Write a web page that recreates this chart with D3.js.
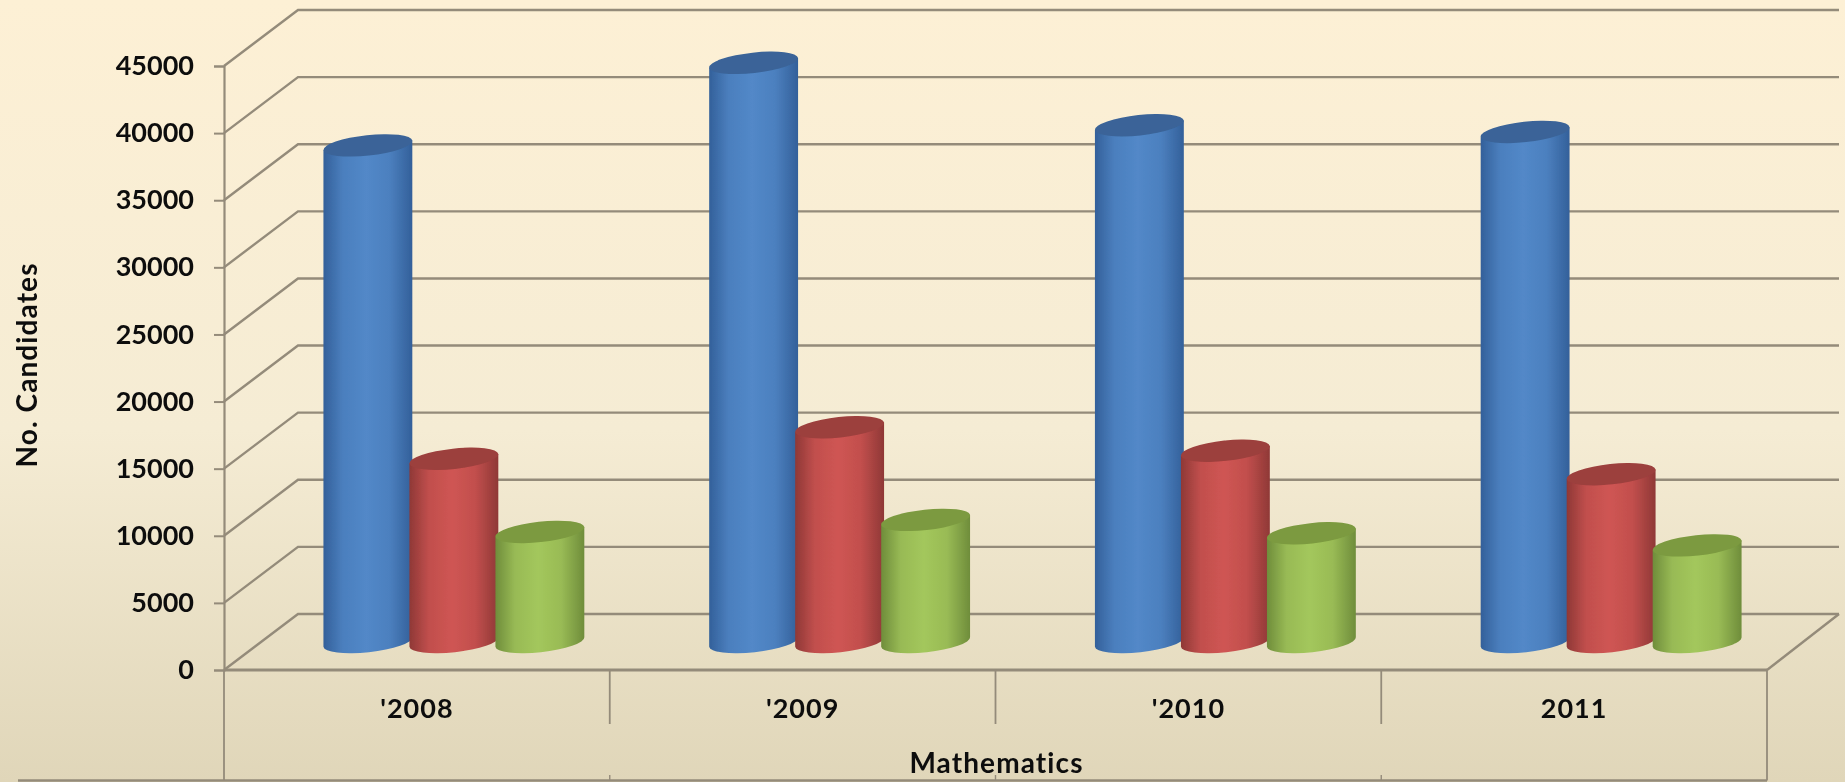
<!DOCTYPE html>
<html><head><meta charset="utf-8">
<script src="https://cdn.jsdelivr.net/npm/d3@7"></script>
<style>html,body{margin:0;padding:0;overflow:hidden;background:#f5ecd2}svg{display:block}
text{font-family:Lato,"Open Sans",sans-serif;font-weight:700;fill:#111}</style>
</head><body><svg id="c" width="1845" height="782"></svg>
<script>
const categories = ["'2008", "'2009", "'2010", "2011"];
const seriesNames = ["Blue", "Red", "Green"];
const blueValues = [37000, 43150, 38500, 38000];
const redValues = [13650, 16000, 14250, 12500];
const greenValues = [8200, 9100, 8100, 7200];
const yTicks = [0, 5000, 10000, 15000, 20000, 25000, 30000, 35000, 40000, 45000];
const yTitle = "No. Candidates";
const xTitle = "Mathematics";

const palette = {
  Blue: {edge: "#33609a", mid: "#5288c8", top: "#3a6498"},
  Red: {edge: "#8f3836", mid: "#cf5553", top: "#9c3f3d"},
  Green: {edge: "#6f8d3b", mid: "#a3c75c", top: "#7b9a3f"}
};
const values = {Blue: blueValues, Red: redValues, Green: greenValues};

const W = 1845, H = 782;
const left = 224, right = 1767, floorY = 670, topY = 66, bottom = 780.5;
const depthX = 74, depthY = 56;
const rx = 44.7, ry = 10.2, tilt = -6.2;

const svg = d3.select("#c");
const defs = svg.append("defs");
const bg = defs.append("linearGradient").attr("id", "bg").attr("x1", 0).attr("x2", 0).attr("y1", 0).attr("y2", 1);
bg.append("stop").attr("offset", "0%").attr("stop-color", "#fdf0d5");
bg.append("stop").attr("offset", "55%").attr("stop-color", "#f5ecd4");
bg.append("stop").attr("offset", "100%").attr("stop-color", "#e0d6b9");
seriesNames.forEach(s => {
  const g = defs.append("linearGradient").attr("id", "g" + s);
  g.append("stop").attr("offset", "0%").attr("stop-color", palette[s].edge);
  g.append("stop").attr("offset", "22%").attr("stop-color", d3.interpolateRgb(palette[s].edge, palette[s].mid)(0.78));
  g.append("stop").attr("offset", "48%").attr("stop-color", palette[s].mid);
  g.append("stop").attr("offset", "74%").attr("stop-color", d3.interpolateRgb(palette[s].edge, palette[s].mid)(0.8));
  g.append("stop").attr("offset", "100%").attr("stop-color", palette[s].edge);
});
const soft = defs.append("filter").attr("id", "soft");
soft.append("feGaussianBlur").attr("stdDeviation", 0.7);

svg.append("rect").attr("width", W).attr("height", H).attr("fill", "url(#bg)");

const y = d3.scaleLinear().domain([0, 45000]).range([floorY, topY]);
const x = d3.scaleBand().domain(categories).range([left, right]);
const inner = d3.scaleBand().domain(seriesNames).range([-129, 129]);

const root = svg.append("g").attr("filter", "url(#soft)");
const grid = "#948b7a";

// walls
const walls = root.append("g").attr("fill", "none").attr("stroke", grid).attr("stroke-width", 2.4);
yTicks.forEach(t => {
  walls.append("path")
    .attr("d", d3.line()([[left, y(t)], [left + depthX, y(t) - depthY], [W - 6, y(t) - depthY]]));
});
walls.append("path").attr("d", d3.line()([[right, floorY], [W - 6, floorY - depthY]]));

// y axis
const yAxis = d3.axisLeft(y).tickValues(yTicks).tickFormat(d3.format("d")).tickSize(10).tickPadding(20);
const ya = root.append("g").attr("transform", `translate(${left},0)`).call(yAxis);
ya.select(".domain").attr("stroke", grid).attr("stroke-width", 2.2);
ya.selectAll(".tick line").attr("stroke", grid).attr("stroke-width", 2);
ya.selectAll("text").attr("font-size", 27).style("font-family", "Lato").attr("fill", "#111");

// x axis block
const xb = root.append("g").attr("stroke", grid);
xb.append("line").attr("x1", left).attr("x2", right).attr("y1", floorY).attr("y2", floorY).attr("stroke-width", 2.8);
xb.append("line").attr("x1", 18).attr("x2", right).attr("y1", bottom).attr("y2", bottom).attr("stroke-width", 2.6);
[left, right].forEach(px => xb.append("line").attr("x1", px).attr("x2", px).attr("y1", floorY).attr("y2", bottom).attr("stroke-width", 1.8));
categories.slice(1).forEach(c => {
  xb.append("line").attr("x1", x(c)).attr("x2", x(c)).attr("y1", floorY).attr("y2", 724).attr("stroke-width", 1.8);
  xb.append("line").attr("x1", x(c)).attr("x2", x(c)).attr("y1", 775).attr("y2", bottom).attr("stroke-width", 1.4);
});
root.append("g").selectAll("text").data(categories).join("text")
  .attr("x", d => x(d) + x.bandwidth() / 2).attr("y", 708).attr("dy", "0.36em")
  .attr("text-anchor", "middle").attr("font-size", 27).attr("letter-spacing", 1).text(d => d);
root.append("text").attr("x", (left + right) / 2 + 1).attr("y", 763).attr("dy", "0.36em")
  .attr("text-anchor", "middle").attr("font-size", 28).attr("letter-spacing", 1.1).text(xTitle);
root.append("text").attr("transform", "translate(27,365) rotate(-90)").attr("dy", "0.36em")
  .attr("text-anchor", "middle").attr("font-size", 28).attr("letter-spacing", 1.1).text(yTitle);

// cylinders
const a = tilt * Math.PI / 180, dx = rx * Math.cos(a), dy = rx * Math.sin(a);
const ell = (cx, cy) => `M${cx - dx},${cy - dy}A${rx},${ry} ${tilt} 1 1 ${cx + dx},${cy + dy}A${rx},${ry} ${tilt} 1 1 ${cx - dx},${cy - dy}Z`;
const body = (cx, top, base) => `M${cx - dx},${top - dy}L${cx - dx},${base - dy}A${rx},${ry} ${tilt} 0 0 ${cx + dx},${base + dy}L${cx + dx},${top + dy}Z`;
categories.forEach((c, i) => {
  const gc = x(c) + x.bandwidth() / 2 + depthX / 2;
  seriesNames.forEach(s => {
    const cx = gc + inner(s) + inner.bandwidth() / 2;
    const base = y(0) - depthY / 2, top = y(values[s][i]) - depthY / 2;
    root.append("path").attr("d", body(cx, top, base)).attr("fill", `url(#g${s})`);
    root.append("path").attr("d", ell(cx, top)).attr("fill", palette[s].top);
  });
});
</script></body></html>
